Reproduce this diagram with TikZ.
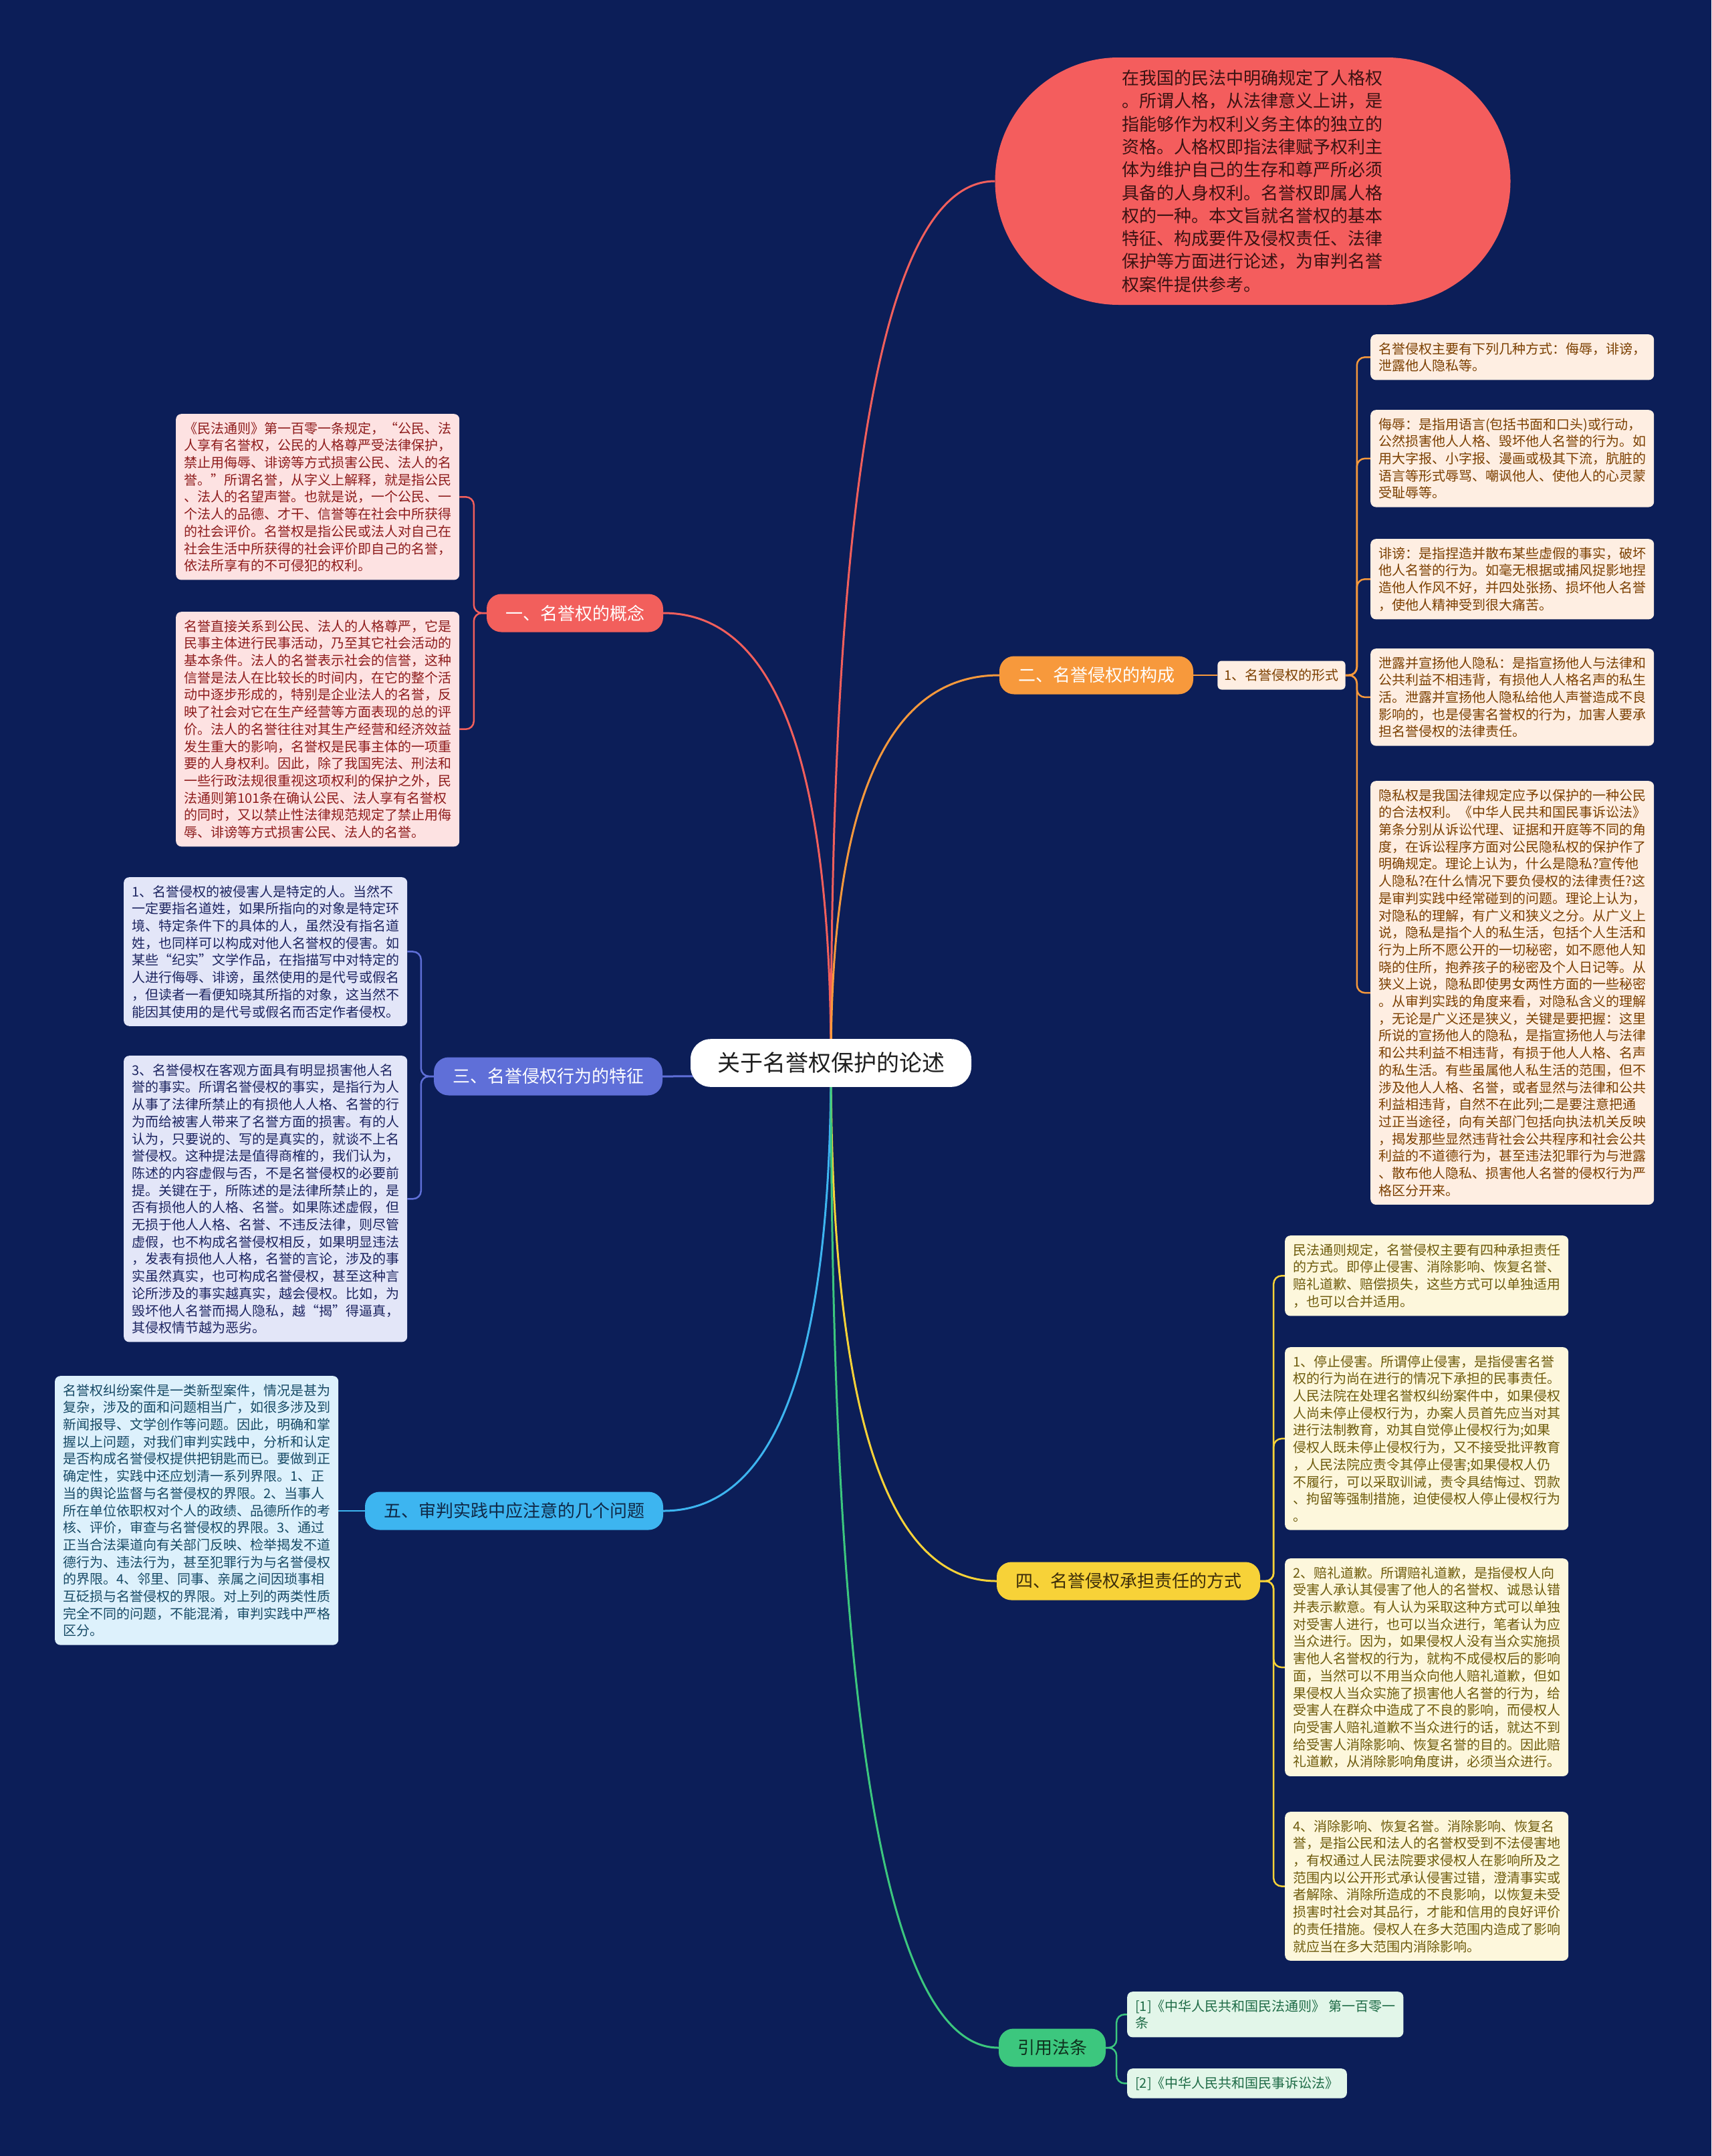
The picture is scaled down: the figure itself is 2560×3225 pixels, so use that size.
\documentclass[tikz,border=0pt]{standalone}
\usepackage{fontspec}
\setmainfont{Noto Sans CJK SC}
\usetikzlibrary{calc,backgrounds}
\definecolor{bg}{RGB}{12,30,88}
\definecolor{cRed}{RGB}{242,95,92}
\definecolor{cOrange}{RGB}{247,153,60}
\definecolor{cIndigo}{RGB}{95,111,216}
\definecolor{cYellow}{RGB}{247,210,56}
\definecolor{cSky}{RGB}{61,181,240}
\definecolor{cGreen}{RGB}{60,199,126}
\definecolor{fPink}{RGB}{253,226,226}
\definecolor{tPink}{RGB}{142,28,28}
\definecolor{fPeach}{RGB}{254,238,226}
\definecolor{tPeach}{RGB}{123,63,0}
\definecolor{fLav}{RGB}{227,230,248}
\definecolor{tLav}{RGB}{28,36,96}
\definecolor{fSky}{RGB}{221,241,252}
\definecolor{tSky}{RGB}{23,74,102}
\definecolor{fYel}{RGB}{253,247,220}
\definecolor{tYel}{RGB}{110,91,12}
\definecolor{fGrn}{RGB}{226,246,233}
\definecolor{tGrn}{RGB}{30,107,70}
\definecolor{fEll}{RGB}{244,93,93}
\definecolor{tEll}{RGB}{58,18,18}
\tikzset{
  leaf/.style={rounded corners=8pt, inner xsep=12pt, inner ysep=12pt, align=left, text width=400pt, anchor=north west, font=\fontsize{20pt}{25.7pt}\selectfont},
  cite/.style={rounded corners=8pt, inner xsep=12pt, inner ysep=12pt, align=left, anchor=north west, font=\fontsize{20pt}{25.7pt}\selectfont},
  branch/.style={rounded corners=22pt, inner xsep=28pt, minimum height=57pt, font=\fontsize{26pt}{30pt}\selectfont},
  mainline/.style={line width=3pt},
  subline/.style={line width=2.5pt, rounded corners=12pt}
}
\newcommand{\mindcurve}[2]{\draw[mainline,#1] (ctr.center) .. controls ($(ctr.center)!0.67!(ctr.center |- #2)$) and ($(#2)!0.67!(ctr.center |- #2)$) .. (#2);}
\begin{document}
\begin{tikzpicture}[x=1pt,y=-1pt]
\useasboundingbox (0,0) rectangle (2560,3225);

% ---- nodes ----
\node[fill=white, rounded corners=30pt, inner xsep=40pt, inner ysep=20pt, font=\fontsize{34pt}{40pt}\selectfont, text={rgb,255:red,30;green,30;blue,30}] (ctr) at (1243,1590) {关于名誉权保护的论述};

\node[fill=fEll, text=tEll, rounded corners=185pt, minimum width=771pt, minimum height=370pt, align=left, text width=392pt, font=\fontsize{26pt}{34.3pt}\selectfont] (ell) at (1874,271) {在我国的民法中明确规定了人格权\\。所谓人格，从法律意义上讲，是\\指能够作为权利义务主体的独立的\\资格。人格权即指法律赋予权利主\\体为维护自己的生存和尊严所必须\\具备的人身权利。名誉权即属人格\\权的一种。本文旨就名誉权的基本\\特征、构成要件及侵权责任、法律\\保护等方面进行论述，为审判名誉\\权案件提供参考。};

% branches
\node[branch, fill=cRed, text=white] (b1) at (860,917) {一、名誉权的概念};
\node[branch, fill=cOrange, text=white] (b2) at (1640,1010) {二、名誉侵权的构成};
\node[branch, fill=cIndigo, text=white] (b3) at (820,1610) {三、名誉侵权行为的特征};
\node[branch, fill=cYellow, text={rgb,255:red,60;green,45;blue,10}] (b4) at (1688,2365) {四、名誉侵权承担责任的方式};
\node[branch, fill=cSky, text={rgb,255:red,15;green,40;blue,70}] (b5) at (769,2260) {五、审判实践中应注意的几个问题};
\node[branch, fill=cGreen, text={rgb,255:red,15;green,50;blue,30}] (b6) at (1574,3063) {引用法条};

\node[fill=fPeach, text=tPeach, rounded corners=6pt, inner xsep=10pt, minimum height=43pt, font=\fontsize{20pt}{24pt}\selectfont] (s2) at (1917,1010) {1、名誉侵权的形式};

% left leaves
\node[leaf, fill=fPink, text=tPink] (P1) at (263,619) {《民法通则》第一百零一条规定，“公民、法\\人享有名誉权，公民的人格尊严受法律保护，\\禁止用侮辱、诽谤等方式损害公民、法人的名\\誉。”所谓名誉，从字义上解释，就是指公民\\、法人的名望声誉。也就是说，一个公民、一\\个法人的品德、才干、信誉等在社会中所获得\\的社会评价。名誉权是指公民或法人对自己在\\社会生活中所获得的社会评价即自己的名誉，\\依法所享有的不可侵犯的权利。};
\node[leaf, fill=fPink, text=tPink] (P2) at (263,915) {名誉直接关系到公民、法人的人格尊严，它是\\民事主体进行民事活动，乃至其它社会活动的\\基本条件。法人的名誉表示社会的信誉，这种\\信誉是法人在比较长的时间内，在它的整个活\\动中逐步形成的，特别是企业法人的名誉，反\\映了社会对它在生产经营等方面表现的总的评\\价。法人的名誉往往对其生产经营和经济效益\\发生重大的影响，名誉权是民事主体的一项重\\要的人身权利。因此，除了我国宪法、刑法和\\一些行政法规很重视这项权利的保护之外，民\\法通则第101条在确认公民、法人享有名誉权\\的同时，又以禁止性法律规范规定了禁止用侮\\辱、诽谤等方式损害公民、法人的名誉。};
\node[leaf, fill=fLav, text=tLav] (B1) at (185,1312) {1、名誉侵权的被侵害人是特定的人。当然不\\一定要指名道姓，如果所指向的对象是特定环\\境、特定条件下的具体的人，虽然没有指名道\\姓，也同样可以构成对他人名誉权的侵害。如\\某些“纪实”文学作品，在指描写中对特定的\\人进行侮辱、诽谤，虽然使用的是代号或假名\\，但读者一看便知晓其所指的对象，这当然不\\能因其使用的是代号或假名而否定作者侵权。};
\node[leaf, fill=fLav, text=tLav] (B2) at (185,1579) {3、名誉侵权在客观方面具有明显损害他人名\\誉的事实。所谓名誉侵权的事实，是指行为人\\从事了法律所禁止的有损他人人格、名誉的行\\为而给被害人带来了名誉方面的损害。有的人\\认为，只要说的、写的是真实的，就谈不上名\\誉侵权。这种提法是值得商榷的，我们认为，\\陈述的内容虚假与否，不是名誉侵权的必要前\\提。关键在于，所陈述的是法律所禁止的，是\\否有损他人的人格、名誉。如果陈述虚假，但\\无损于他人人格、名誉、不违反法律，则尽管\\虚假，也不构成名誉侵权相反，如果明显违法\\，发表有损他人人格，名誉的言论，涉及的事\\实虽然真实，也可构成名誉侵权，甚至这种言\\论所涉及的事实越真实，越会侵权。比如，为\\毁坏他人名誉而揭人隐私，越“揭”得逼真，\\其侵权情节越为恶劣。};
\node[leaf, fill=fSky, text=tSky] (S1) at (82,2058) {名誉权纠纷案件是一类新型案件，情况是甚为\\复杂，涉及的面和问题相当广，如很多涉及到\\新闻报导、文学创作等问题。因此，明确和掌\\握以上问题，对我们审判实践中，分析和认定\\是否构成名誉侵权提供把钥匙而已。要做到正\\确定性，实践中还应划清一系列界限。1、正\\当的舆论监督与名誉侵权的界限。2、当事人\\所在单位依职权对个人的政绩、品德所作的考\\核、评价，审查与名誉侵权的界限。3、通过\\正当合法渠道向有关部门反映、检举揭发不道\\德行为、违法行为，甚至犯罪行为与名誉侵权\\的界限。4、邻里、同事、亲属之间因琐事相\\互砭损与名誉侵权的界限。对上列的两类性质\\完全不同的问题，不能混淆，审判实践中严格\\区分。};

% right leaves (branch 2)
\node[leaf, fill=fPeach, text=tPeach] (L1) at (2050,500) {名誉侵权主要有下列几种方式：侮辱，诽谤，\\泄露他人隐私等。};
\node[leaf, fill=fPeach, text=tPeach] (L2) at (2050,613) {侮辱：是指用语言(包括书面和口头)或行动，\\公然损害他人人格、毁坏他人名誉的行为。如\\用大字报、小字报、漫画或极其下流，肮脏的\\语言等形式辱骂、嘲讽他人、使他人的心灵蒙\\受耻辱等。};
\node[leaf, fill=fPeach, text=tPeach] (L3) at (2050,806) {诽谤：是指捏造并散布某些虚假的事实，破坏\\他人名誉的行为。如毫无根据或捕风捉影地捏\\造他人作风不好，并四处张扬、损坏他人名誉\\，使他人精神受到很大痛苦。};
\node[leaf, fill=fPeach, text=tPeach] (L4) at (2050,970) {泄露并宣扬他人隐私：是指宣扬他人与法律和\\公共利益不相违背，有损他人人格名声的私生\\活。泄露并宣扬他人隐私给他人声誉造成不良\\影响的，也是侵害名誉权的行为，加害人要承\\担名誉侵权的法律责任。};
\node[leaf, fill=fPeach, text=tPeach] (L5) at (2050,1168) {隐私权是我国法律规定应予以保护的一种公民\\的合法权利。《中华人民共和国民事诉讼法》\\第条分别从诉讼代理、证据和开庭等不同的角\\度，在诉讼程序方面对公民隐私权的保护作了\\明确规定。理论上认为，什么是隐私?宣传他\\人隐私?在什么情况下要负侵权的法律责任?这\\是审判实践中经常碰到的问题。理论上认为，\\对隐私的理解，有广义和狭义之分。从广义上\\说，隐私是指个人的私生活，包括个人生活和\\行为上所不愿公开的一切秘密，如不愿他人知\\晓的住所，抱养孩子的秘密及个人日记等。从\\狭义上说，隐私即使男女两性方面的一些秘密\\。从审判实践的角度来看，对隐私含义的理解\\，无论是广义还是狭义，关键是要把握：这里\\所说的宣扬他人的隐私，是指宣扬他人与法律\\和公共利益不相违背，有损于他人人格、名声\\的私生活。有些虽属他人私生活的范围，但不\\涉及他人人格、名誉，或者显然与法律和公共\\利益相违背，自然不在此列;二是要注意把通\\过正当途径，向有关部门包括向执法机关反映\\，揭发那些显然违背社会公共程序和社会公共\\利益的不道德行为，甚至违法犯罪行为与泄露\\、散布他人隐私、损害他人名誉的侵权行为严\\格区分开来。};

% right leaves (branch 4)
\node[leaf, fill=fYel, text=tYel] (Y1) at (1922,1848) {民法通则规定，名誉侵权主要有四种承担责任\\的方式。即停止侵害、消除影响、恢复名誉、\\赔礼道歉、赔偿损失，这些方式可以单独适用\\，也可以合并适用。};
\node[leaf, fill=fYel, text=tYel] (Y2) at (1922,2015) {1、停止侵害。所谓停止侵害，是指侵害名誉\\权的行为尚在进行的情况下承担的民事责任。\\人民法院在处理名誉权纠纷案件中，如果侵权\\人尚未停止侵权行为，办案人员首先应当对其\\进行法制教育，劝其自觉停止侵权行为;如果\\侵权人既未停止侵权行为，又不接受批评教育\\，人民法院应责令其停止侵害;如果侵权人仍\\不履行，可以采取训诫，责令具结悔过、罚款\\、拘留等强制措施，迫使侵权人停止侵权行为\\。};
\node[leaf, fill=fYel, text=tYel] (Y3) at (1922,2331) {2、赔礼道歉。所谓赔礼道歉，是指侵权人向\\受害人承认其侵害了他人的名誉权、诚恳认错\\并表示歉意。有人认为采取这种方式可以单独\\对受害人进行，也可以当众进行，笔者认为应\\当众进行。因为，如果侵权人没有当众实施损\\害他人名誉权的行为，就构不成侵权后的影响\\面，当然可以不用当众向他人赔礼道歉，但如\\果侵权人当众实施了损害他人名誉的行为，给\\受害人在群众中造成了不良的影响，而侵权人\\向受害人赔礼道歉不当众进行的话，就达不到\\给受害人消除影响、恢复名誉的目的。因此赔\\礼道歉，从消除影响角度讲，必须当众进行。};
\node[leaf, fill=fYel, text=tYel] (Y4) at (1922,2710) {4、消除影响、恢复名誉。消除影响、恢复名\\誉，是指公民和法人的名誉权受到不法侵害地\\，有权通过人民法院要求侵权人在影响所及之\\范围内以公开形式承认侵害过错，澄清事实或\\者解除、消除所造成的不良影响，以恢复未受\\损害时社会对其品行，才能和信用的良好评价\\的责任措施。侵权人在多大范围内造成了影响\\就应当在多大范围内消除影响。};

% citations
\node[cite, fill=fGrn, text=tGrn] (C1) at (1686,2979) {[1]《中华人民共和国民法通则》 第一百零一\\条};
\node[cite, fill=fGrn, text=tGrn] (C2) at (1686,3094) {[2]《中华人民共和国民事诉讼法》};

% ---- background and connectors ----
\begin{pgfonlayer}{background}
\fill[bg] (0,0) rectangle (2560,3225);
\mindcurve{cRed}{ell.west}
\mindcurve{cRed}{b1.east}
\mindcurve{cOrange}{b2.west}
\mindcurve{cIndigo}{b3.east}
\mindcurve{cYellow}{b4.west}
\mindcurve{cSky}{b5.east}
\mindcurve{cGreen}{b6.west}
\foreach \n in {P1,P2} \draw[subline, cRed] (b1.west) -- ++(-19,0) |- (\n.east);
\draw[subline, cOrange] (b2.east) -- (s2.west);
\foreach \n in {L1,L2,L3,L4,L5} \draw[subline, cOrange] (s2.east) -- ++(17,0) |- (\n.west);
\foreach \n in {B1,B2} \draw[subline, cIndigo] (b3.west) -- ++(-19,0) |- (\n.east);
\draw[subline, cSky] (b5.west) -- (S1.east |- b5.west);
\foreach \n in {Y1,Y2,Y3,Y4} \draw[subline, cYellow] (b4.east) -- ++(20,0) |- (\n.west);
\foreach \n in {C1,C2} \draw[subline, cGreen] (b6.east) -- ++(16,0) |- (\n.west);
\end{pgfonlayer}
\end{tikzpicture}
\end{document}
